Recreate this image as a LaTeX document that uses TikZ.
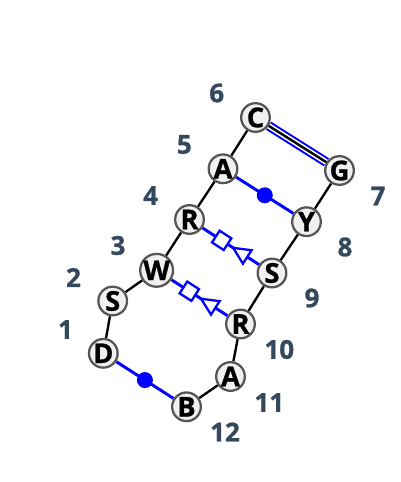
\documentclass[tikz,border=0pt]{standalone}
\usepackage{fontspec}
\setmainfont{Open Sans}[BoldFeatures={FakeBold=0.9}]
\usetikzlibrary{calc,backgrounds}
\definecolor{numcol}{HTML}{34495E}
\definecolor{nodefill}{HTML}{F0F0F0}
\definecolor{nodeline}{HTML}{555555}
\newcommand\lwpair[2]{%
  \begin{scope}[on background layer]
    \draw[pairline] (#1) -- (#2);
  \end{scope}
  \path (#1.center) -- node[sqmark, pos=0.39, sloped] (sq#1#2) {} (#2.center);
  \draw[trimark] ($(#1.center)!0.53!(#2.center)$)
     -- ($(#1.center)!0.70!(#2.center)!6pt!90:(#2.center)$)
     -- ($(#1.center)!0.70!(#2.center)!6pt!-90:(#2.center)$) -- cycle;
}
\begin{document}
\begin{tikzpicture}[x=0.75pt,y=-0.75pt,
  base/.style={circle, draw=nodeline, fill=nodefill, line width=1.7pt, minimum size=21.5pt, inner sep=0pt, font=\fontsize{20.5}{20.5}\selectfont\bfseries},
  num/.style={text=numcol, inner sep=0pt, font=\fontsize{19.5}{19.5}\selectfont\bfseries},
  bb/.style={line width=1.75pt, black},
  pairline/.style={line width=2.2pt, blue},
  dotmark/.style={circle, fill=blue, minimum size=12pt, inner sep=0pt},
  sqmark/.style={draw=blue, fill=white, line width=1.7pt, minimum size=10.5pt, inner sep=0pt},
  trimark/.style={draw=blue, fill=white, line width=1.7pt, line join=miter}
]
\useasboundingbox (0,0) rectangle (400,482);
% bases
\node[base] (n1)  at (103.3,353.3) {D};
\node[base] (n2)  at (112.7,301)   {S};
\node[base] (n3)  at (156.6,270.3) {W};
\node[base] (n4)  at (189.5,219.5) {R};
\node[base] (n5)  at (223,168.8)   {A};
\node[base] (n6)  at (255.5,117.5) {C};
\node[base] (n7)  at (339.5,170.5) {G};
\node[base] (n8)  at (306.5,221.7) {Y};
\node[base] (n9)  at (272,273)     {S};
\node[base] (n10) at (240.5,324)   {R};
\node[base] (n11) at (230.5,376.5) {A};
\node[base] (n12) at (186.5,406.8) {B};
% numbers
\node[num] (l1)  at (65.5,329.5)  {1};
\node[num] (l2)  at (73.5,277.5)  {2};
\node[num] (l3)  at (118,245.5)   {3};
\node[num] (l4)  at (150.7,195.5) {4};
\node[num] (l5)  at (184.3,144.5) {5};
\node[num] (l6)  at (216.7,93)    {6};
\node[num] (l7)  at (378,196)     {7};
\node[num] (l8)  at (345,247)     {8};
\node[num] (l9)  at (312,298)     {9};
\node[num] (l10) at (279.3,349.5) {10};
\node[num] (l11) at (269.3,402.5) {11};
\node[num] (l12) at (225,432)     {12};
% backbone
\begin{scope}[on background layer]
  \draw[bb] (n1) -- (n2) -- (n3) -- (n4) -- (n5) -- (n6);
  \draw[bb] (n7) -- (n8) -- (n9) -- (n10) -- (n11) -- (n12);
  \draw[blue, line width=7.2pt] (n6) -- (n7);
  \draw[white, line width=4.2pt] (n6) -- (n7);
  \draw[line width=1.8pt, black] (n6) -- (n7);
  \draw[pairline] (n5) -- (n8);
  \draw[pairline] (n1) -- (n12);
\end{scope}
\node[dotmark] (d58) at ($(n5.center)!0.5!(n8.center)$) {};
\node[dotmark] (d112) at ($(n1.center)!0.5!(n12.center)$) {};
\lwpair{n4}{n9}
\lwpair{n3}{n10}
\end{tikzpicture}
\end{document}
